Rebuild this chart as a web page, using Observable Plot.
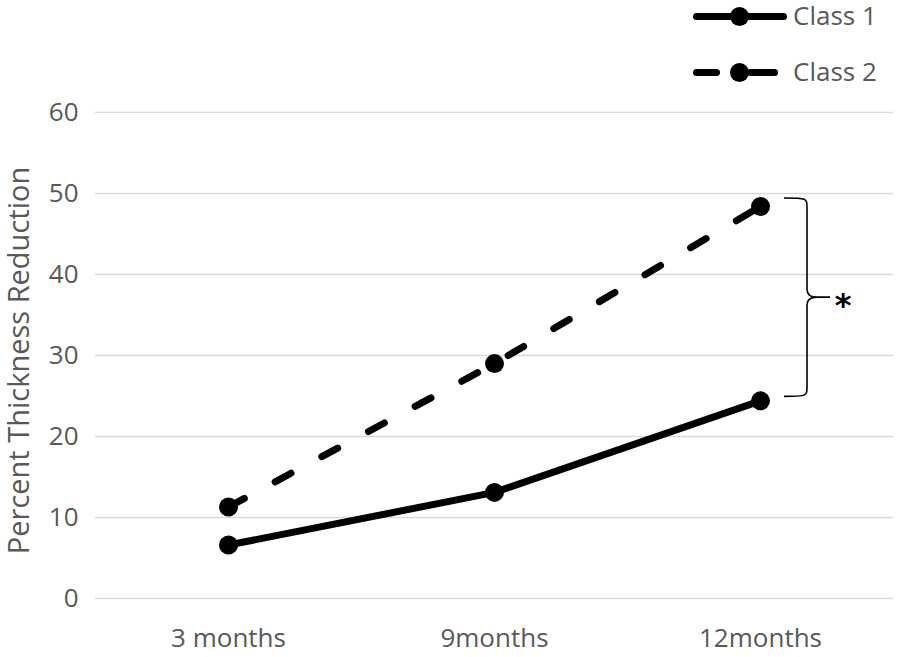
<!DOCTYPE html>
<html><head><meta charset="utf-8">
<script src="https://cdn.jsdelivr.net/npm/d3@7"></script>
<script src="https://cdn.jsdelivr.net/npm/@observablehq/plot@0.6"></script>
<style>
body{margin:0;background:#fff;font-family:"Open Sans",sans-serif;}
#wrap{position:relative;width:898px;height:657px;overflow:hidden;}
#legend{position:relative;width:898px;height:95px;}
.ln{position:absolute;background:#000;height:7px;border-radius:3.5px;}
.dt{position:absolute;background:#000;width:19px;height:19px;border-radius:50%;}
.tx{position:absolute;font-size:26px;color:#595959;line-height:30px;white-space:nowrap;}
#chart svg{overflow:visible;}
</style></head><body>
<div id="wrap"><div id="legend"></div><div id="chart"></div></div>
<script>
const months = ["3 months", "9months", "12months"];
const class1 = [6.6, 13.1, 24.4];
const class2 = [11.3, 29.0, 48.4];
const yTicks = [0, 10, 20, 30, 40, 50, 60];
const seriesNames = ["Class 1", "Class 2"];
const axisLabel = "Percent Thickness Reduction";
const sigMark = "*";

const rows = [];
seriesNames.forEach((s, i) => {
  const vals = i === 0 ? class1 : class2;
  months.forEach((m, j) => rows.push({series: s, month: m, value: vals[j]}));
});

// Legend (HTML)
const legend = d3.select("#legend");
function legendRow(cy, name, dashed) {
  if (dashed) {
    legend.append("div").attr("class","ln").style("left","693px").style("width","27px").style("top",(cy-3.5)+"px");
    legend.append("div").attr("class","ln").style("left","747px").style("width","31px").style("top",(cy-3.5)+"px");
  } else {
    legend.append("div").attr("class","ln").style("left","693px").style("width","94px").style("top",(cy-3.5)+"px");
  }
  legend.append("div").attr("class","dt").style("left",(739-9.5)+"px").style("top",(cy-9.5)+"px");
  legend.append("div").attr("class","tx").style("left","793px").style("top",(cy-16)+"px").text(name);
}
legendRow(16, seriesNames[0], false);
legendRow(72, seriesNames[1], true);

const bracket = (index, {x, y}) => {
  const xm = x(months[2]);
  const yTop = y(class2[2]) - 8, yBot = y(class1[2]) - 4, yMid = (yTop + yBot) / 2;
  const x0 = xm + 24, xv = xm + 47, xt = xm + 70;
  const p = `M${x0},${yTop} C${xv},${yTop} ${xv},${yTop} ${xv},${yTop+10} V${yMid-8} Q${xv},${yMid} ${xv+10},${yMid} H${xt} M${xv+10},${yMid} Q${xv},${yMid} ${xv},${yMid+8} V${yBot-10} C${xv},${yBot} ${xv},${yBot} ${x0},${yBot}`;
  const g = d3.create("svg:g");
  g.append("path").attr("d", p).attr("fill", "none").attr("stroke", "#000").attr("stroke-width", 1.6);
  g.append("text").attr("x", xt + 13).attr("y", yMid + 19)
    .attr("text-anchor", "middle").attr("font-family", "DejaVu Sans").attr("font-weight", "bold")
    .attr("font-size", 32).attr("fill", "#000").text(sigMark);
  return g.node();
};

const chart = Plot.plot({
  width: 898,
  height: 562,
  marginTop: 17,
  marginBottom: 59,
  marginLeft: 95,
  marginRight: 5,
  style: {fontFamily: "'Open Sans', sans-serif", fontSize: "26px", color: "#595959", background: "#fff", overflow: "visible"},
  x: {type: "point", domain: months, padding: 0.5},
  y: {domain: [0, 60]},
  marks: [
    Plot.gridY(yTicks, {stroke: "#d9d9d9", strokeOpacity: 1, strokeWidth: 1.5}),
    Plot.axisY(yTicks, {tickSize: 0, tickPadding: 17, label: null, fontSize: 26, fill: "#595959"}),
    Plot.axisX({tickSize: 0, tickPadding: 30, label: null, fontSize: 26, fill: "#595959"}),
    Plot.text([axisLabel], {frameAnchor: "left", textAnchor: "middle", dx: -76, dy: 5, rotate: -90, fontSize: 29, fill: "#595959"}),
    Plot.line(rows.filter(d => d.series === seriesNames[1]), {x: "month", y: "value", stroke: "#000", strokeWidth: 7, strokeDasharray: "18,35", strokeLinecap: "round"}),
    Plot.line(rows.filter(d => d.series === seriesNames[0]), {x: "month", y: "value", stroke: "#000", strokeWidth: 7, strokeLinecap: "round"}),
    Plot.dot(rows, {x: "month", y: "value", r: 9.5, fill: "#000", stroke: "none"}),
    bracket
  ]
});
document.getElementById("chart").appendChild(chart);
</script>
</body></html>
